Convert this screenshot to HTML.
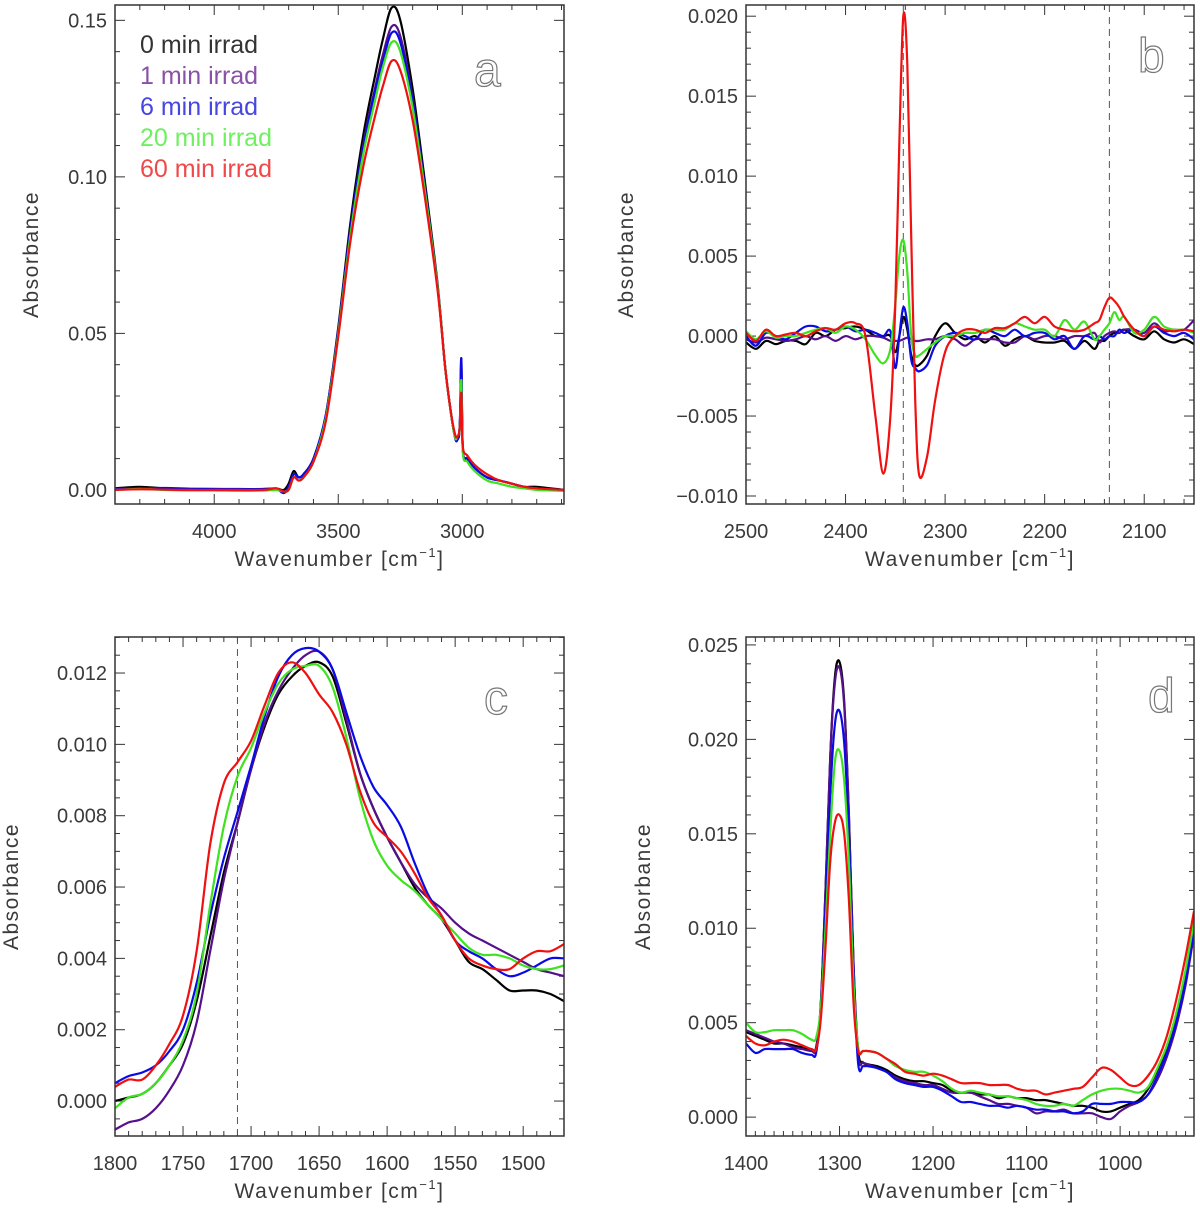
<!DOCTYPE html>
<html><head><meta charset="utf-8">
<style>
html,body{margin:0;padding:0;background:#fff;}
svg text{font-family:"Liberation Sans",sans-serif;fill:#3a3a3a;}
</style></head>
<body>
<svg id="chart" width="1200" height="1207" viewBox="0 0 1200 1207" xmlns="http://www.w3.org/2000/svg"></svg>
<script>
// ---------- Panel a data ----------
const aWn = [4400,4300,4200,4100,4000,3900,3800,3750,3720,3700,3680,3660,3640,3600,3550,3500,3450,3400,3350,3320,3285,3250,3200,3150,3100,3070,3050,3030,3020,3010,3004,2998,2980,2950,2900,2850,2800,2750,2700,2590];
const aBlack = [0.0005,0.001,0.0005,0.0003,0.0003,0.0002,0.0003,0.0005,0.0,0.002,0.006,0.004,0.005,0.010,0.024,0.052,0.086,0.113,0.133,0.144,0.154,0.150,0.128,0.098,0.066,0.040,0.027,0.017,0.016,0.020,0.040,0.013,0.010,0.007,0.004,0.003,0.002,0.001,0.001,0.0];
const aPurple = [0.0003,0.0005,0.0004,0.0003,0.0002,0.0002,0.0003,0.0004,-0.001,0.001,0.005,0.004,0.005,0.010,0.024,0.051,0.084,0.110,0.129,0.139,0.148,0.145,0.125,0.096,0.065,0.040,0.027,0.017,0.016,0.021,0.042,0.013,0.010,0.007,0.004,0.003,0.002,0.001,0.0005,0.0];
const aBlue = [0.0003,0.0005,0.0006,0.0004,0.0003,0.0003,0.0002,0.0003,-0.001,0.001,0.005,0.004,0.005,0.010,0.024,0.051,0.084,0.109,0.128,0.137,0.146,0.143,0.124,0.096,0.065,0.040,0.027,0.017,0.016,0.021,0.042,0.013,0.010,0.007,0.004,0.003,0.002,0.001,0.0005,0.0];
const aGreen = [0.0,0.0003,0.0,-0.0002,-0.0002,-0.0003,-0.0002,0.0,-0.0005,0.0,0.004,0.003,0.004,0.009,0.023,0.050,0.082,0.107,0.125,0.135,0.143,0.140,0.122,0.095,0.065,0.040,0.027,0.017,0.017,0.020,0.035,0.012,0.009,0.006,0.003,0.002,0.001,0.0005,0.0,-0.0003];
const aRed = [0.0,0.0002,0.0001,0.0,0.0,0.0,0.0,0.0005,-0.0005,0.0,0.004,0.003,0.004,0.009,0.022,0.049,0.080,0.103,0.120,0.129,0.137,0.134,0.118,0.093,0.064,0.040,0.027,0.018,0.017,0.020,0.031,0.014,0.011,0.008,0.005,0.003,0.002,0.001,0.0005,0.0];
const aXTicks = [4000,3500,3000];
const aYTicks = ["0.00","0.05","0.10","0.15"];

// ---------- Panel b data ----------
const bWn = [2500,2490,2480,2470,2460,2450,2440,2430,2420,2410,2400,2390,2380,2370,2362,2355,2350,2346,2342,2338,2334,2330,2326,2318,2310,2300,2290,2280,2270,2260,2250,2240,2230,2220,2210,2200,2190,2180,2170,2160,2150,2145,2140,2135,2130,2125,2120,2110,2100,2090,2080,2070,2060,2050];
const bRed = [0.0002,-0.0003,0.0004,0.0,0.0001,0.0002,0.0,0.0003,0.0005,0.0004,0.0008,0.0008,0.0,-0.005,-0.0086,-0.005,0.002,0.012,0.020,0.017,0.006,-0.004,-0.0087,-0.0075,-0.004,-0.001,0.0,0.0004,0.0004,0.0002,0.0005,0.0005,0.0008,0.0012,0.0008,0.0012,0.0006,0.0004,0.0003,0.0004,0.0008,0.0010,0.0018,0.0024,0.0022,0.0018,0.0012,0.0004,0.0,0.0006,0.0004,0.0003,0.0004,0.0003];
const bGreen = [0.0003,-0.0002,0.0003,-0.0001,0.0,0.0,0.0002,0.0004,0.0005,0.0002,0.0006,0.0004,-0.0002,-0.0012,-0.0017,-0.0008,0.002,0.005,0.006,0.004,0.0,-0.0012,-0.0012,-0.0008,-0.0004,0.0,0.0,0.0002,0.0002,0.0004,0.0004,0.0004,0.0008,0.0006,0.0004,0.0004,0.0,0.001,0.0004,0.0009,-0.0002,0.0,0.0004,0.0008,0.0015,0.0010,0.0012,0.0002,0.0004,0.0012,0.0006,0.0004,0.0004,0.0002];
const bBlue = [0.0,-0.0006,0.0002,0.0,-0.0002,0.0002,0.0006,0.0006,0.0003,0.0004,0.0006,0.0003,0.0004,0.0002,0.0,0.0003,-0.002,0.0,0.0018,0.0008,-0.0015,-0.002,-0.0022,-0.0018,-0.0006,0.0,0.0002,0.0,-0.0002,0.0004,0.0002,0.0,0.0004,0.0,0.0002,0.0002,-0.0002,0.0,-0.0008,0.0,-0.0002,0.0,-0.0002,0.0,0.0,0.0004,0.0002,0.0004,0.0,0.0006,0.0002,0.0,0.0002,-0.0002];
const bBlack = [-0.0004,-0.0008,-0.0003,-0.0005,-0.0003,-0.0003,-0.0005,0.0002,0.0,0.0004,0.0005,0.0006,0.0004,0.0,0.0,0.0,-0.001,0.0,0.0012,0.0004,-0.0012,-0.0018,-0.0018,-0.0012,0.0,0.0008,0.0002,-0.0002,0.0,-0.0004,0.0,-0.0006,-0.0002,0.0,-0.0003,-0.0004,-0.0004,-0.0003,-0.0008,-0.0003,-0.0008,-0.0003,-0.0003,0.0,0.0002,0.0002,0.0004,0.0,-0.0002,0.0003,-0.0002,-0.0004,-0.0002,-0.0005];
const bPurple = [-0.0002,-0.0004,-0.0001,-0.0002,-0.0003,-0.0002,0.0,-0.0002,0.0,-0.0003,0.0,-0.0002,0.0,0.0,-0.0001,-0.0003,-0.0003,-0.0003,-0.0002,-0.0001,-0.0002,-0.0003,-0.0003,-0.0002,-0.0002,0.0,-0.0002,-0.0006,-0.0002,-0.0002,-0.0002,-0.0004,-0.0004,0.0,-0.0002,0.0,0.0,-0.0002,0.0,0.0,0.0002,-0.0004,0.0,0.0002,0.0003,0.0002,0.0004,0.0004,0.0002,0.0008,0.0003,0.0004,0.0004,0.001];
const bXTicks = [2500,2400,2300,2200,2100];
const bYTicks = ["\u22120.010","\u22120.005","0.000","0.005","0.010","0.015","0.020"];
const bMarkers = [2342,2135];

// ---------- Panel c data ----------
const cWn = [1800,1790,1780,1770,1760,1750,1740,1730,1720,1710,1700,1690,1680,1670,1660,1650,1640,1630,1620,1610,1600,1590,1580,1570,1560,1550,1540,1530,1520,1510,1500,1490,1480,1470];
const cBlack = [0.0,0.0001,0.0002,0.0005,0.001,0.0016,0.0028,0.0046,0.0064,0.0078,0.0093,0.0105,0.0114,0.0119,0.0122,0.0123,0.0119,0.0106,0.0092,0.0082,0.0074,0.0067,0.0060,0.0055,0.0051,0.0045,0.0039,0.0037,0.0034,0.0031,0.0031,0.0031,0.0030,0.0028];
const cPurple = [-0.0008,-0.0006,-0.0005,-0.0002,0.0003,0.001,0.0022,0.0042,0.0062,0.0078,0.0093,0.0106,0.0115,0.0121,0.0125,0.0126,0.0121,0.0107,0.0092,0.0082,0.0074,0.0067,0.0061,0.0057,0.0054,0.0050,0.0047,0.0045,0.0043,0.0041,0.0039,0.0037,0.0036,0.0035];
const cBlue = [0.0005,0.0007,0.0008,0.001,0.0014,0.002,0.0033,0.0052,0.0068,0.0081,0.0094,0.0108,0.0119,0.0125,0.0127,0.0126,0.0121,0.0109,0.0097,0.0088,0.0083,0.0077,0.0067,0.0058,0.0052,0.0045,0.0042,0.0040,0.0037,0.0035,0.0036,0.0038,0.0040,0.0040];
const cGreen = [-0.0002,0.0001,0.0002,0.0005,0.001,0.0017,0.003,0.0055,0.0077,0.0091,0.0099,0.0109,0.0117,0.0121,0.0122,0.0122,0.0116,0.0102,0.0085,0.0073,0.0066,0.0062,0.0059,0.0055,0.0051,0.0047,0.0043,0.0041,0.0041,0.0040,0.0038,0.0037,0.0037,0.0038];
const cRed = [0.0004,0.0006,0.0006,0.001,0.0016,0.0024,0.0042,0.0072,0.0089,0.0095,0.0101,0.0111,0.0120,0.0123,0.0120,0.0114,0.0109,0.0100,0.0087,0.0078,0.0074,0.0070,0.0064,0.0057,0.0052,0.0045,0.0040,0.0038,0.0037,0.0037,0.0040,0.0042,0.0042,0.0044];
const cXTicks = [1800,1750,1700,1650,1600,1550,1500];
const cYTicks = ["0.000","0.002","0.004","0.006","0.008","0.010","0.012"];
const cMarkers = [1710];

// ---------- Panel d data ----------
const dWn = [1400,1390,1380,1370,1360,1350,1340,1330,1325,1320,1315,1310,1305,1300,1295,1290,1285,1280,1275,1270,1260,1250,1240,1230,1220,1210,1200,1190,1180,1170,1160,1150,1140,1130,1120,1110,1100,1090,1080,1070,1060,1050,1040,1030,1020,1010,1000,990,980,970,960,950,940,930,921];
const dBlack = [0.0045,0.0043,0.0041,0.0039,0.0039,0.0038,0.0037,0.0036,0.0037,0.006,0.012,0.019,0.0233,0.0241,0.022,0.016,0.008,0.0035,0.0029,0.0028,0.0027,0.0025,0.0022,0.0020,0.0019,0.0019,0.0018,0.0017,0.0014,0.0013,0.0013,0.0012,0.0012,0.0010,0.0011,0.0010,0.0010,0.0009,0.0009,0.0008,0.0007,0.0006,0.0006,0.0005,0.0003,0.0003,0.0005,0.0007,0.0009,0.0015,0.0025,0.0037,0.0053,0.0075,0.0101];
const dPurple = [0.0046,0.0044,0.0042,0.0040,0.0039,0.0037,0.0036,0.0035,0.0036,0.006,0.012,0.019,0.0230,0.0238,0.0218,0.016,0.008,0.0032,0.0029,0.0028,0.0026,0.0024,0.0021,0.0019,0.0018,0.0017,0.0017,0.0015,0.0013,0.0013,0.0013,0.0011,0.0009,0.0007,0.0007,0.0006,0.0005,0.0002,0.0003,0.0003,0.0004,0.0002,0.0002,0.0002,0.0,-0.0001,0.0003,0.0006,0.0008,0.0012,0.002,0.0032,0.0048,0.0070,0.0097];
const dBlue = [0.0039,0.0034,0.0036,0.0036,0.0036,0.0036,0.0034,0.0033,0.0034,0.0058,0.011,0.017,0.0208,0.0215,0.0198,0.015,0.0075,0.0028,0.0027,0.0027,0.0026,0.0024,0.0020,0.0018,0.0017,0.0016,0.0016,0.0014,0.0011,0.0008,0.0008,0.0007,0.0006,0.0006,0.0005,0.0006,0.0005,0.0004,0.0004,0.0003,0.0003,0.0002,0.0003,0.0007,0.0007,0.0007,0.0008,0.0008,0.0008,0.0012,0.0022,0.0034,0.0050,0.0072,0.0099];
const dGreen = [0.0050,0.0045,0.0045,0.0046,0.0046,0.0046,0.0044,0.0041,0.0042,0.0058,0.010,0.015,0.0188,0.0194,0.0178,0.0135,0.007,0.0037,0.0035,0.0035,0.0034,0.0031,0.0027,0.0025,0.0024,0.0024,0.0022,0.0019,0.0015,0.0013,0.0014,0.0013,0.0012,0.0011,0.0011,0.0010,0.0009,0.0007,0.0006,0.0006,0.0007,0.0006,0.0009,0.0012,0.0014,0.0015,0.0015,0.0014,0.0013,0.0016,0.0026,0.0038,0.0055,0.0078,0.0104];
const dRed = [0.0043,0.0039,0.0038,0.0040,0.0041,0.0040,0.0038,0.0036,0.0036,0.0052,0.009,0.0135,0.0156,0.0160,0.0150,0.0115,0.006,0.0035,0.0035,0.0035,0.0034,0.0031,0.0028,0.0024,0.0023,0.0022,0.0023,0.0022,0.0020,0.0018,0.0018,0.0018,0.0017,0.0017,0.0017,0.0015,0.0014,0.0014,0.0012,0.0013,0.0014,0.0015,0.0016,0.0021,0.0026,0.0025,0.0021,0.0017,0.0017,0.0022,0.0030,0.0043,0.0062,0.0085,0.0109];
const dXTicks = [1400,1300,1200,1100,1000];
const dYTicks = ["0.000","0.005","0.010","0.015","0.020","0.025"];
const dMarkers = [1025];

const legendLabels = ["0 min irrad","1 min irrad","6 min irrad","20 min irrad","60 min irrad"];

const NS = "http://www.w3.org/2000/svg";
const svg = document.getElementById("chart");
const lineColors = {black:"#000000",purple:"#55108a",blue:"#0a0ae6",green:"#3ee21e",red:"#f01010"};
const legendColors = ["#333333","#8a50a8","#4646e0","#6ef060","#f04848"];

function mk(tag, attrs, parent){
  const e = document.createElementNS(NS, tag);
  for (const k in attrs) e.setAttribute(k, attrs[k]);
  (parent||svg).appendChild(e);
  return e;
}

function smoothPath(pts){
  let d = "M"+pts[0][0].toFixed(1)+","+pts[0][1].toFixed(1);
  for (let i=0;i<pts.length-1;i++){
    const p0=pts[Math.max(i-1,0)], p1=pts[i], p2=pts[i+1], p3=pts[Math.min(i+2,pts.length-1)];
    const c1x=p1[0]+(p2[0]-p0[0])/6, c1y=p1[1]+(p2[1]-p0[1])/6;
    const c2x=p2[0]-(p3[0]-p1[0])/6, c2y=p2[1]-(p3[1]-p1[1])/6;
    d += " C"+c1x.toFixed(1)+","+c1y.toFixed(1)+" "+c2x.toFixed(1)+","+c2y.toFixed(1)+" "+p2[0].toFixed(1)+","+p2[1].toFixed(1);
  }
  return d;
}

function panel(cfg){
  const g = mk("g", {});
  
  
  const L=cfg.box[0], T=cfg.box[1], R=cfg.box[2], B=cfg.box[3];
  const sx = v => L + (cfg.xr[0]-v)/(cfg.xr[0]-cfg.xr[1])*(R-L);
  const sy = v => B - (v-cfg.yr[0])/(cfg.yr[1]-cfg.yr[0])*(B-T);
  const cp = mk("clipPath", {id:cfg.name+"-clip"}, g);
  mk("rect", {x:L, y:T, width:R-L, height:B-T}, cp);
  const tg = mk("g", {stroke:"#333","stroke-width":1}, g);
  
  
  const eps=1e-9;
  for (let v=Math.ceil(cfg.xr[1]/cfg.xMinor)*cfg.xMinor; v<=cfg.xr[0]+eps; v+=cfg.xMinor){
    const x=sx(v); const maj = Math.abs(v/cfg.xMajor-Math.round(v/cfg.xMajor))<1e-6;
    const len = maj?10:5;
    mk("line",{x1:x,y1:B,x2:x,y2:B-len},tg); mk("line",{x1:x,y1:T,x2:x,y2:T+len},tg);
  }
  for (let k=Math.ceil(cfg.yr[0]/cfg.yMinor-eps); k*cfg.yMinor<=cfg.yr[1]+eps; k++){
    const v=k*cfg.yMinor; const y=sy(v); const r=v/cfg.yMajor; const maj=Math.abs(r-Math.round(r))<1e-6;
    const len = maj?10:5;
    mk("line",{x1:L,y1:y,x2:L+len,y2:y},tg); mk("line",{x1:R,y1:y,x2:R-len,y2:y},tg);
  }
  (cfg.markers||[]).forEach(m=>{
    const ln = mk("line",{x1:sx(m),y1:T,x2:sx(m),y2:B,stroke:"#555","stroke-width":1,"stroke-dasharray":"7,5"},g);
    
    
  });
  const names=["black","purple","blue","green","red"];
  cfg.series.forEach((vals,i)=>{
    const pts = vals.map((v,j)=>[sx(cfg.wn[j]), sy(v)]);
    const p = mk("path",{d:smoothPath(pts),fill:"none",stroke:lineColors[names[i]],"stroke-width":2.2,"stroke-linejoin":"round","clip-path":"url(#"+cfg.name+"-clip)"},g);
    
    
  });
  const fr = mk("rect",{x:L,y:T,width:R-L,height:B-T,fill:"none",stroke:"#333","stroke-width":1.5},g);
  
  
  cfg.xTicks.forEach(v=>{
    const t = mk("text",{x:sx(v),y:B+34,"text-anchor":"middle","font-size":20},g);
    t.textContent = String(v);
    
    
  });
  cfg.yTicks.forEach(s=>{
    const v = parseFloat(s.replace("\u2212","-"));
    const t = mk("text",{x:L-8,y:sy(v)+7,"text-anchor":"end","font-size":20},g);
    t.textContent = s;
    
    
  });
  const xt = mk("text",{x:(L+R)/2,y:B+62,"text-anchor":"middle","font-size":21,"letter-spacing":"1.5"},g);
  xt.textContent = "Wavenumber [cm";
  const sup = mk("tspan",{dy:-9,"font-size":13},xt); sup.textContent="\u22121";
  const cl = mk("tspan",{dy:9},xt); cl.textContent="]";
  
  
  const yt = mk("text",{x:0,y:0,"text-anchor":"middle","font-size":21,"letter-spacing":"1.5",transform:"translate("+(cfg.ytx)+","+((T+B)/2)+") rotate(-90)"},g);
  yt.textContent = "Absorbance";
  
  
  const pl = mk("text",{x:cfg.letter[0],y:cfg.letter[1],"font-size":48,"font-family":"Liberation Sans, sans-serif",fill:"#fff",stroke:"#777","stroke-width":1.2,style:"fill:#fff"},g);
  pl.textContent = cfg.label;
  
  
  return g;
}

panel({name:"panel-a",label:"a",box:[115,5,564,504],xr:[4400,2590],yr:[-0.0045,0.1549],wn:aWn,series:[aBlack,aPurple,aBlue,aGreen,aRed],xTicks:aXTicks,yTicks:aYTicks,xMajor:500,xMinor:100,yMajor:0.05,yMinor:0.01,ytx:38,letter:[474,86]});
panel({name:"panel-b",label:"b",box:[746,5,1194,504],xr:[2500,2050],yr:[-0.0105,0.0207],wn:bWn,series:[bBlack,bPurple,bBlue,bGreen,bRed],xTicks:bXTicks,yTicks:bYTicks,xMajor:100,xMinor:20,yMajor:0.005,yMinor:0.001,ytx:633,markers:bMarkers,letter:[1138,72]});
panel({name:"panel-c",label:"c",box:[115,637,564,1136],xr:[1800,1470],yr:[-0.00098,0.01301],wn:cWn,series:[cBlack,cPurple,cBlue,cGreen,cRed],xTicks:cXTicks,yTicks:cYTicks,xMajor:50,xMinor:10,yMajor:0.002,yMinor:0.0005,ytx:18,markers:cMarkers,letter:[484,714]});
panel({name:"panel-d",label:"d",box:[746,637,1194,1136],xr:[1400,921],yr:[-0.001,0.02542],wn:dWn,series:[dBlack,dPurple,dBlue,dGreen,dRed],xTicks:dXTicks,yTicks:dYTicks,xMajor:100,xMinor:10,yMajor:0.005,yMinor:0.001,ytx:650,markers:dMarkers,letter:[1148,712]});

const lg = mk("g",{});


legendLabels.forEach((s,i)=>{
  const t = mk("text",{x:140,y:53+i*31,"font-size":25,"font-family":"Liberation Mono, monospace",style:"fill:"+legendColors[i]},lg);
  t.textContent = s;
  
  
});
</script>
</body></html>
